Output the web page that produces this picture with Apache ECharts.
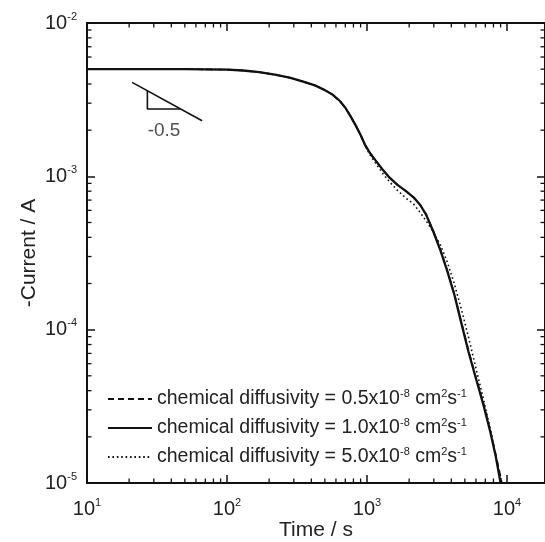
<!DOCTYPE html>
<html>
<head>
<meta charset="utf-8">
<script src="https://cdn.jsdelivr.net/npm/echarts@6/dist/echarts.min.js"></script>
<style>
  html, body { margin: 0; padding: 0; background: #ffffff; }
  #chart { width: 545px; height: 542px; }
</style>
</head>
<body>
<div id="chart"></div>
<script>
const FONT = '"Liberation Sans", Arial, Helvetica, sans-serif';

// Current transients, time in s and -current in A, for three chemical diffusivities
const timeD05 = [10, 50, 100, 130, 170, 220, 280, 350, 430, 500, 570, 640, 700, 760, 830, 900, 970, 1050, 1150, 1300, 1450, 1650, 1900, 2150, 2400, 2650, 2950, 3350, 3750, 4200, 4700, 5300, 6000, 6800, 7600, 8300, 9200];
const currentD05 = [5.0e-3, 5.0e-3, 4.97e-3, 4.9e-3, 4.78e-3, 4.6e-3, 4.4e-3, 4.15e-3, 3.9e-3, 3.65e-3, 3.4e-3, 3.1e-3, 2.8e-3, 2.48e-3, 2.15e-3, 1.86e-3, 1.6e-3, 1.42e-3, 1.27e-3, 1.1e-3, 9.8e-4, 8.8e-4, 8.0e-4, 7.3e-4, 6.5e-4, 5.6e-4, 4.5e-4, 3.32e-4, 2.42e-4, 1.72e-4, 1.14e-4, 7.4e-5, 4.9e-5, 3.3e-5, 2.2e-5, 1.55e-5, 1.0e-5];

const timeD10 = [10, 50, 100, 130, 170, 220, 280, 350, 430, 500, 570, 640, 700, 760, 830, 900, 970, 1050, 1150, 1300, 1450, 1650, 1900, 2150, 2400, 2650, 2950, 3350, 3750, 4200, 4700, 5300, 6000, 6800, 7600, 8300, 9000];
const currentD10 = [5.0e-3, 5.0e-3, 4.97e-3, 4.9e-3, 4.78e-3, 4.6e-3, 4.4e-3, 4.15e-3, 3.9e-3, 3.65e-3, 3.4e-3, 3.1e-3, 2.8e-3, 2.48e-3, 2.15e-3, 1.86e-3, 1.6e-3, 1.42e-3, 1.27e-3, 1.1e-3, 9.8e-4, 8.8e-4, 8.0e-4, 7.3e-4, 6.5e-4, 5.6e-4, 4.45e-4, 3.28e-4, 2.4e-4, 1.7e-4, 1.12e-4, 7.2e-5, 4.8e-5, 3.2e-5, 2.15e-5, 1.5e-5, 1.0e-5];

const timeD50 = [10, 50, 100, 130, 170, 220, 280, 350, 430, 500, 570, 640, 700, 760, 830, 900, 970, 1050, 1150, 1300, 1450, 1650, 1900, 2150, 2400, 2650, 2950, 3350, 3750, 4200, 4700, 5300, 6000, 6800, 7600, 8300, 9200];
const currentD50 = [5.0e-3, 5.0e-3, 4.97e-3, 4.9e-3, 4.78e-3, 4.6e-3, 4.4e-3, 4.15e-3, 3.9e-3, 3.65e-3, 3.4e-3, 3.1e-3, 2.8e-3, 2.48e-3, 2.15e-3, 1.86e-3, 1.58e-3, 1.38e-3, 1.22e-3, 1.04e-3, 9.2e-4, 8.1e-4, 7.2e-4, 6.6e-4, 5.8e-4, 5.1e-4, 4.4e-4, 3.55e-4, 2.75e-4, 2.0e-4, 1.38e-4, 9.0e-5, 5.6e-5, 3.5e-5, 2.25e-5, 1.5e-5, 1.0e-5];

// Slope guide (-0.5) drawn in data coordinates
const slopeLineTime = [21, 66.4];
const slopeLineCurrent = [4.1e-3, 2.306e-3];
const triangleTime = [27, 27, 46.7];
const triangleCurrent = [3.616e-3, 2.75e-3, 2.75e-3];
const slopeLabel = ['-0.5'];
const slopeLabelPos = [35.5, 1.98e-3];

// Axis ranges and tick positions
const timeRange = [10, 18680];
const currentRange = [1e-5, 1e-2];
const timeMinorTicks = [20, 30, 40, 50, 60, 70, 80, 90, 200, 300, 400, 500, 600, 700, 800, 900, 2000, 3000, 4000, 5000, 6000, 7000, 8000, 9000];
const currentMinorTicks = [2e-5, 3e-5, 4e-5, 5e-5, 6e-5, 7e-5, 8e-5, 9e-5, 2e-4, 3e-4, 4e-4, 5e-4, 6e-4, 7e-4, 8e-4, 9e-4, 2e-3, 3e-3, 4e-3, 5e-3, 6e-3, 7e-3, 8e-3, 9e-3];

const seriesNames = [
  'chemical diffusivity = 0.5x10',
  'chemical diffusivity = 1.0x10',
  'chemical diffusivity = 5.0x10'
];

const INK = '#111111';
const TEXT = '#222222';

function pairs(xs, ys) { return xs.map((x, i) => [x, ys[i]]); }

function powerLabel(v) {
  const e = Math.log10(v);
  const r = Math.round(e);
  if (Math.abs(e - r) > 1e-6) return '';
  return '{b|10}{s|' + r + '}';
}

const supRich = {
  b: { fontFamily: FONT, fontSize: 20, color: TEXT },
  s: { fontFamily: FONT, fontSize: 11, color: TEXT, padding: [0, 0, 13, 0] }
};

const legendRich = {
  n: { fontFamily: FONT, fontSize: 19.5, color: TEXT },
  s: { fontFamily: FONT, fontSize: 11, color: TEXT, padding: [0, 0, 11, 0] }
};

// Minor ticks on all four edges, placed through the axis scales
const minorTickData = timeMinorTicks.map(t => [t, currentRange[0], 0])
  .concat(currentMinorTicks.map(c => [timeRange[0], c, 1]));

function renderMinorTick(params, api) {
  const kind = api.value(2);
  const len = 4.5;
  const style = { stroke: INK, lineWidth: 1.3 };
  if (kind === 0) {
    const t = api.value(0);
    const b = api.coord([t, currentRange[0]]);
    const tp = api.coord([t, currentRange[1]]);
    return { type: 'group', children: [
      { type: 'line', shape: { x1: b[0], y1: b[1], x2: b[0], y2: b[1] - len }, style },
      { type: 'line', shape: { x1: tp[0], y1: tp[1], x2: tp[0], y2: tp[1] + len }, style }
    ] };
  }
  const c = api.value(1);
  const l = api.coord([timeRange[0], c]);
  const r = api.coord([timeRange[1], c]);
  return { type: 'group', children: [
    { type: 'line', shape: { x1: l[0], y1: l[1], x2: l[0] + len, y2: l[1] }, style },
    { type: 'line', shape: { x1: r[0], y1: r[1], x2: r[0] - len, y2: r[1] }, style }
  ] };
}

const axisLine = { show: true, lineStyle: { color: INK, width: 2 } };
const majorTick = { show: true, inside: true, length: 8, lineStyle: { color: INK, width: 1.5 } };

const chart = echarts.init(document.getElementById('chart'), null, { renderer: 'canvas' });

chart.setOption({
  animation: false,
  backgroundColor: '#ffffff',
  color: [INK, INK, INK],
  grid: { left: 87, top: 23, right: 0, bottom: 59, containLabel: false, outerBoundsMode: 'none' },
  xAxis: [
    {
      type: 'log', logBase: 10, min: timeRange[0], max: timeRange[1],
      position: 'bottom',
      name: 'Time / s', nameLocation: 'middle', nameGap: 37, nameMoveOverlap: false,
      nameTextStyle: { fontFamily: FONT, fontSize: 21, color: TEXT },
      axisLine, axisTick: majorTick,
      axisLabel: { margin: 14, formatter: powerLabel, rich: supRich, showMaxLabel: false },
      splitLine: { show: false }
    },
    {
      type: 'log', logBase: 10, min: timeRange[0], max: timeRange[1],
      position: 'top',
      axisLine, axisTick: majorTick,
      axisLabel: { show: false }, splitLine: { show: false }
    }
  ],
  yAxis: [
    {
      type: 'log', logBase: 10, min: currentRange[0], max: currentRange[1],
      position: 'left',
      name: '-Current / A', nameLocation: 'middle', nameGap: 47, nameMoveOverlap: false,
      nameTextStyle: { fontFamily: FONT, fontSize: 21, color: TEXT },
      axisLine, axisTick: majorTick,
      axisLabel: { margin: 10, formatter: powerLabel, rich: supRich },
      splitLine: { show: false }
    },
    {
      type: 'log', logBase: 10, min: currentRange[0], max: currentRange[1],
      position: 'right',
      axisLine, axisTick: majorTick,
      axisLabel: { show: false }, splitLine: { show: false }
    }
  ],
  legend: {
    data: seriesNames,
    orient: 'vertical',
    left: 102,
    top: 383,
    itemWidth: 44,
    itemHeight: 12,
    itemGap: 8,
    selectedMode: false,
    itemStyle: { opacity: 0 },
    formatter: name => '{n|' + name + '}{s|-8}{n| cm}{s|2}{n|s}{s|-1}',
    textStyle: { fontFamily: FONT, fontSize: 19.5, color: TEXT, rich: legendRich }
  },
  series: [
    {
      name: seriesNames[0], type: 'line', data: pairs(timeD05, currentD05),
      symbol: 'none', z: 3, color: INK,
      lineStyle: { color: INK, width: 1.6, type: [6, 4] }
    },
    {
      name: seriesNames[1], type: 'line', data: pairs(timeD10, currentD10),
      symbol: 'none', z: 4, color: INK,
      lineStyle: { color: INK, width: 2.3, type: 'solid' }
    },
    {
      name: seriesNames[2], type: 'line', data: pairs(timeD50, currentD50),
      symbol: 'none', z: 2, color: INK,
      lineStyle: { color: INK, width: 1.6, type: [1.6, 2.8] }
    },
    {
      type: 'line', data: pairs(slopeLineTime, slopeLineCurrent),
      symbol: 'none', silent: true, color: INK,
      lineStyle: { color: INK, width: 1.6 }
    },
    {
      type: 'line', data: pairs(triangleTime, triangleCurrent),
      symbol: 'none', silent: true, color: INK,
      lineStyle: { color: INK, width: 1.6 }
    },
    {
      type: 'scatter', data: [[slopeLabelPos[0], slopeLabelPos[1], slopeLabel[0]]],
      symbolSize: 0, silent: true,
      label: {
        show: true, position: 'inside', formatter: p => p.value[2],
        fontFamily: FONT, fontSize: 19, color: TEXT
      }
    },
    {
      type: 'custom', data: minorTickData, renderItem: renderMinorTick,
      clip: false, silent: true, z: 5
    }
  ]
});
</script>
</body>
</html>
